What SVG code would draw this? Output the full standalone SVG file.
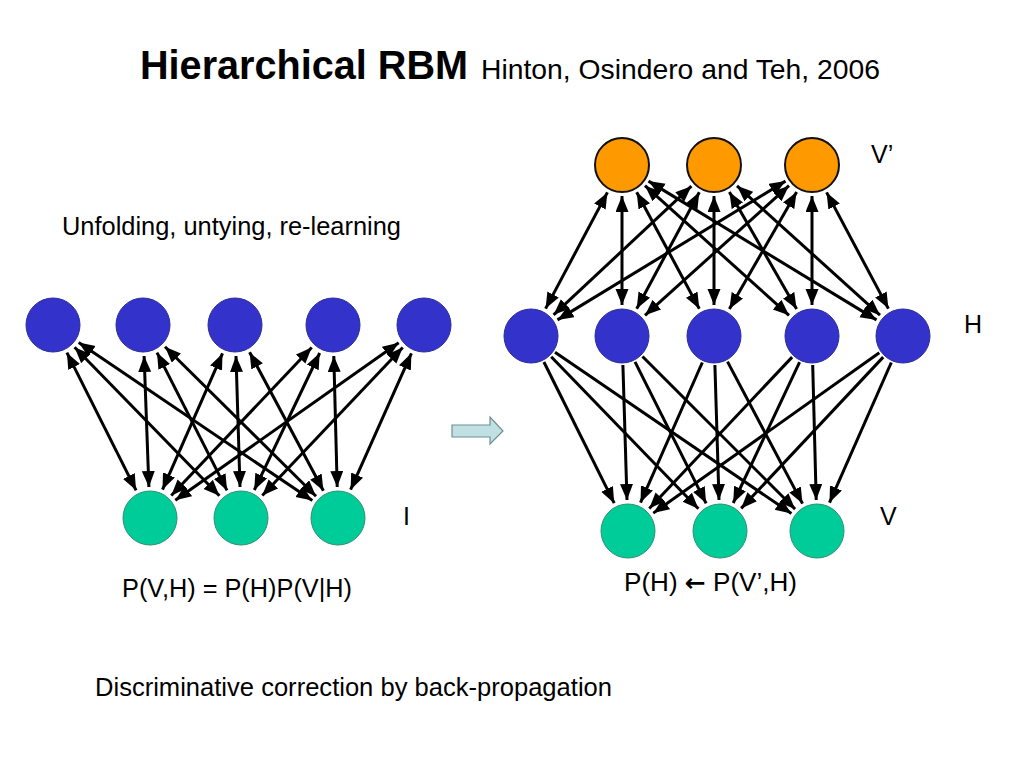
<svg xmlns="http://www.w3.org/2000/svg" width="1024" height="768" viewBox="0 0 1024 768">
<defs>
<style>
text{font-family:"Liberation Sans",Arial,sans-serif;fill:#000}
.lbl{font-size:25px}
.blue{fill:#3333cc;stroke:#2b2b99;stroke-width:1}
.green{fill:#00cc99;stroke:#2f8f70;stroke-width:1}
.orange{fill:#ff9900;stroke:#111;stroke-width:2}
.bi{stroke:#000;stroke-width:3;fill:none;marker-start:url(#ah);marker-end:url(#ah)}
.uni{stroke:#000;stroke-width:3;fill:none;marker-end:url(#ah)}
</style>
<marker id="ah" markerUnits="userSpaceOnUse" markerWidth="17" markerHeight="14" refX="16" refY="6.5" orient="auto-start-reverse">
<path d="M0,0 L16,6.5 L0,13 z" fill="#000"/>
</marker>
</defs>
<rect width="1024" height="768" fill="#fff"/>
<g id="title">
<text x="140" y="79" font-size="40" font-weight="bold" textLength="328" lengthAdjust="spacingAndGlyphs">Hierarchical RBM</text>
<text x="481" y="79" font-size="28" textLength="399" lengthAdjust="spacingAndGlyphs">Hinton, Osindero and Teh, 2006</text>
</g>
<text x="62" y="235" font-size="25" textLength="339" lengthAdjust="spacingAndGlyphs">Unfolding, untying, re-learning</text>
<g id="connectors">
<line class="bi" x1="66.9" y1="352.7" x2="136.1" y2="490.3"/>
<line class="bi" x1="74.6" y1="347.2" x2="219.4" y2="495.8"/>
<line class="bi" x1="78.7" y1="342.4" x2="312.3" y2="500.6"/>
<line class="bi" x1="144.1" y1="356" x2="148.9" y2="487"/>
<line class="bi" x1="157" y1="352.6" x2="227" y2="490.4"/>
<line class="bi" x1="165" y1="346.8" x2="316" y2="496.2"/>
<line class="bi" x1="222.5" y1="353.4" x2="162.5" y2="489.6"/>
<line class="bi" x1="236" y1="356" x2="240" y2="487"/>
<line class="bi" x1="249.6" y1="352.3" x2="323.4" y2="490.7"/>
<line class="bi" x1="311.7" y1="347.5" x2="171.3" y2="495.5"/>
<line class="bi" x1="319.7" y1="353" x2="254.3" y2="490"/>
<line class="bi" x1="333.8" y1="356" x2="337.2" y2="487"/>
<line class="bi" x1="398.7" y1="342.8" x2="175.3" y2="500.2"/>
<line class="bi" x1="402.7" y1="347.5" x2="262.3" y2="495.5"/>
<line class="bi" x1="411.4" y1="353.3" x2="350.6" y2="489.7"/>

<line class="bi" x1="607.4" y1="192.4" x2="545.6" y2="308.6"/>
<line class="bi" x1="622" y1="196" x2="622" y2="305"/>
<line class="bi" x1="636.7" y1="192.3" x2="699.3" y2="308.7"/>
<line class="bi" x1="645" y1="185.7" x2="789" y2="315.3"/>
<line class="bi" x1="648.5" y1="181.1" x2="876.5" y2="319.9"/>
<line class="bi" x1="691.4" y1="186.2" x2="553.6" y2="314.8"/>
<line class="bi" x1="699.3" y1="192.3" x2="636.7" y2="308.7"/>
<line class="bi" x1="714" y1="196" x2="714" y2="305"/>
<line class="bi" x1="729.4" y1="191.9" x2="796.6" y2="309.1"/>
<line class="bi" x1="737" y1="185.8" x2="880" y2="315.2"/>
<line class="bi" x1="785.5" y1="181.1" x2="557.5" y2="319.9"/>
<line class="bi" x1="789" y1="185.7" x2="645" y2="315.3"/>
<line class="bi" x1="796.6" y1="191.9" x2="729.4" y2="309.1"/>
<line class="bi" x1="812" y1="196" x2="812" y2="305"/>
<line class="bi" x1="826.6" y1="192.4" x2="888.4" y2="308.6"/>

<line class="uni" x1="543.9" y1="362" x2="614.2" y2="503.2"/>
<line class="uni" x1="551.2" y1="356.8" x2="698.4" y2="508.7"/>
<line class="uni" x1="555" y1="352.3" x2="791.4" y2="513.5"/>
<line class="uni" x1="622.9" y1="365" x2="627" y2="500"/>
<line class="uni" x1="635" y1="361.9" x2="706.1" y2="503.3"/>
<line class="uni" x1="642.5" y1="356.5" x2="795.1" y2="509.1"/>
<line class="uni" x1="702.3" y1="362.5" x2="640.5" y2="502.6"/>
<line class="uni" x1="714.9" y1="365" x2="719" y2="500"/>
<line class="uni" x1="727.5" y1="361.6" x2="802.5" y2="503.6"/>
<line class="uni" x1="792.1" y1="357.1" x2="649.3" y2="508.5"/>
<line class="uni" x1="799.6" y1="362.2" x2="733.2" y2="503"/>
<line class="uni" x1="812.7" y1="365" x2="816.2" y2="500"/>
<line class="uni" x1="879.3" y1="352.8" x2="653.3" y2="513.1"/>
<line class="uni" x1="883.2" y1="357.1" x2="741.2" y2="508.4"/>
<line class="uni" x1="891.3" y1="362.5" x2="829.5" y2="502.6"/>
</g>
<g id="left-h1"><circle class="blue" cx="53" cy="325" r="27"/></g>
<g id="left-h2"><circle class="blue" cx="143" cy="325" r="27"/></g>
<g id="left-h3"><circle class="blue" cx="235" cy="325" r="27"/></g>
<g id="left-h4"><circle class="blue" cx="333" cy="325" r="27"/></g>
<g id="left-h5"><circle class="blue" cx="424" cy="325" r="27"/></g>
<g id="left-v1"><circle class="green" cx="150" cy="518" r="27"/></g>
<g id="left-v2"><circle class="green" cx="241" cy="518" r="27"/></g>
<g id="left-v3"><circle class="green" cx="338" cy="518" r="27"/></g>

<g id="right-vp1"><circle class="orange" cx="622" cy="165" r="27"/></g>
<g id="right-vp2"><circle class="orange" cx="714" cy="165" r="27"/></g>
<g id="right-vp3"><circle class="orange" cx="812" cy="165" r="27"/></g>
<g id="right-h1"><circle class="blue" cx="531" cy="336" r="27"/></g>
<g id="right-h2"><circle class="blue" cx="622" cy="336" r="27"/></g>
<g id="right-h3"><circle class="blue" cx="714" cy="336" r="27"/></g>
<g id="right-h4"><circle class="blue" cx="812" cy="336" r="27"/></g>
<g id="right-h5"><circle class="blue" cx="903" cy="336" r="27"/></g>
<g id="right-v1"><circle class="green" cx="628" cy="531" r="27"/></g>
<g id="right-v2"><circle class="green" cx="720" cy="531" r="27"/></g>
<g id="right-v3"><circle class="green" cx="817" cy="531" r="27"/></g>

<g id="block-arrow">
<polygon points="452,425 490,425 490,417 503,431 490,444 490,437 452,437" fill="#c0e0e4" stroke="#6f8f93" stroke-width="1.2"/>
</g>
<text class="lbl" x="403" y="525">I</text>
<text class="lbl" x="871" y="163">V’</text>
<text class="lbl" x="964" y="333">H</text>
<text class="lbl" x="880" y="525">V</text>
<text class="lbl" x="122" y="597" textLength="230" lengthAdjust="spacingAndGlyphs">P(V,H) = P(H)P(V|H)</text>
<text class="lbl" x="624" y="591" textLength="173" lengthAdjust="spacingAndGlyphs">P(H) <tspan font-family="'DejaVu Sans',sans-serif" font-size="24" font-weight="bold">←</tspan> P(V’,H)</text>
<text x="95" y="696" font-size="25.5" textLength="517" lengthAdjust="spacingAndGlyphs">Discriminative correction by back-propagation</text>
</svg>
